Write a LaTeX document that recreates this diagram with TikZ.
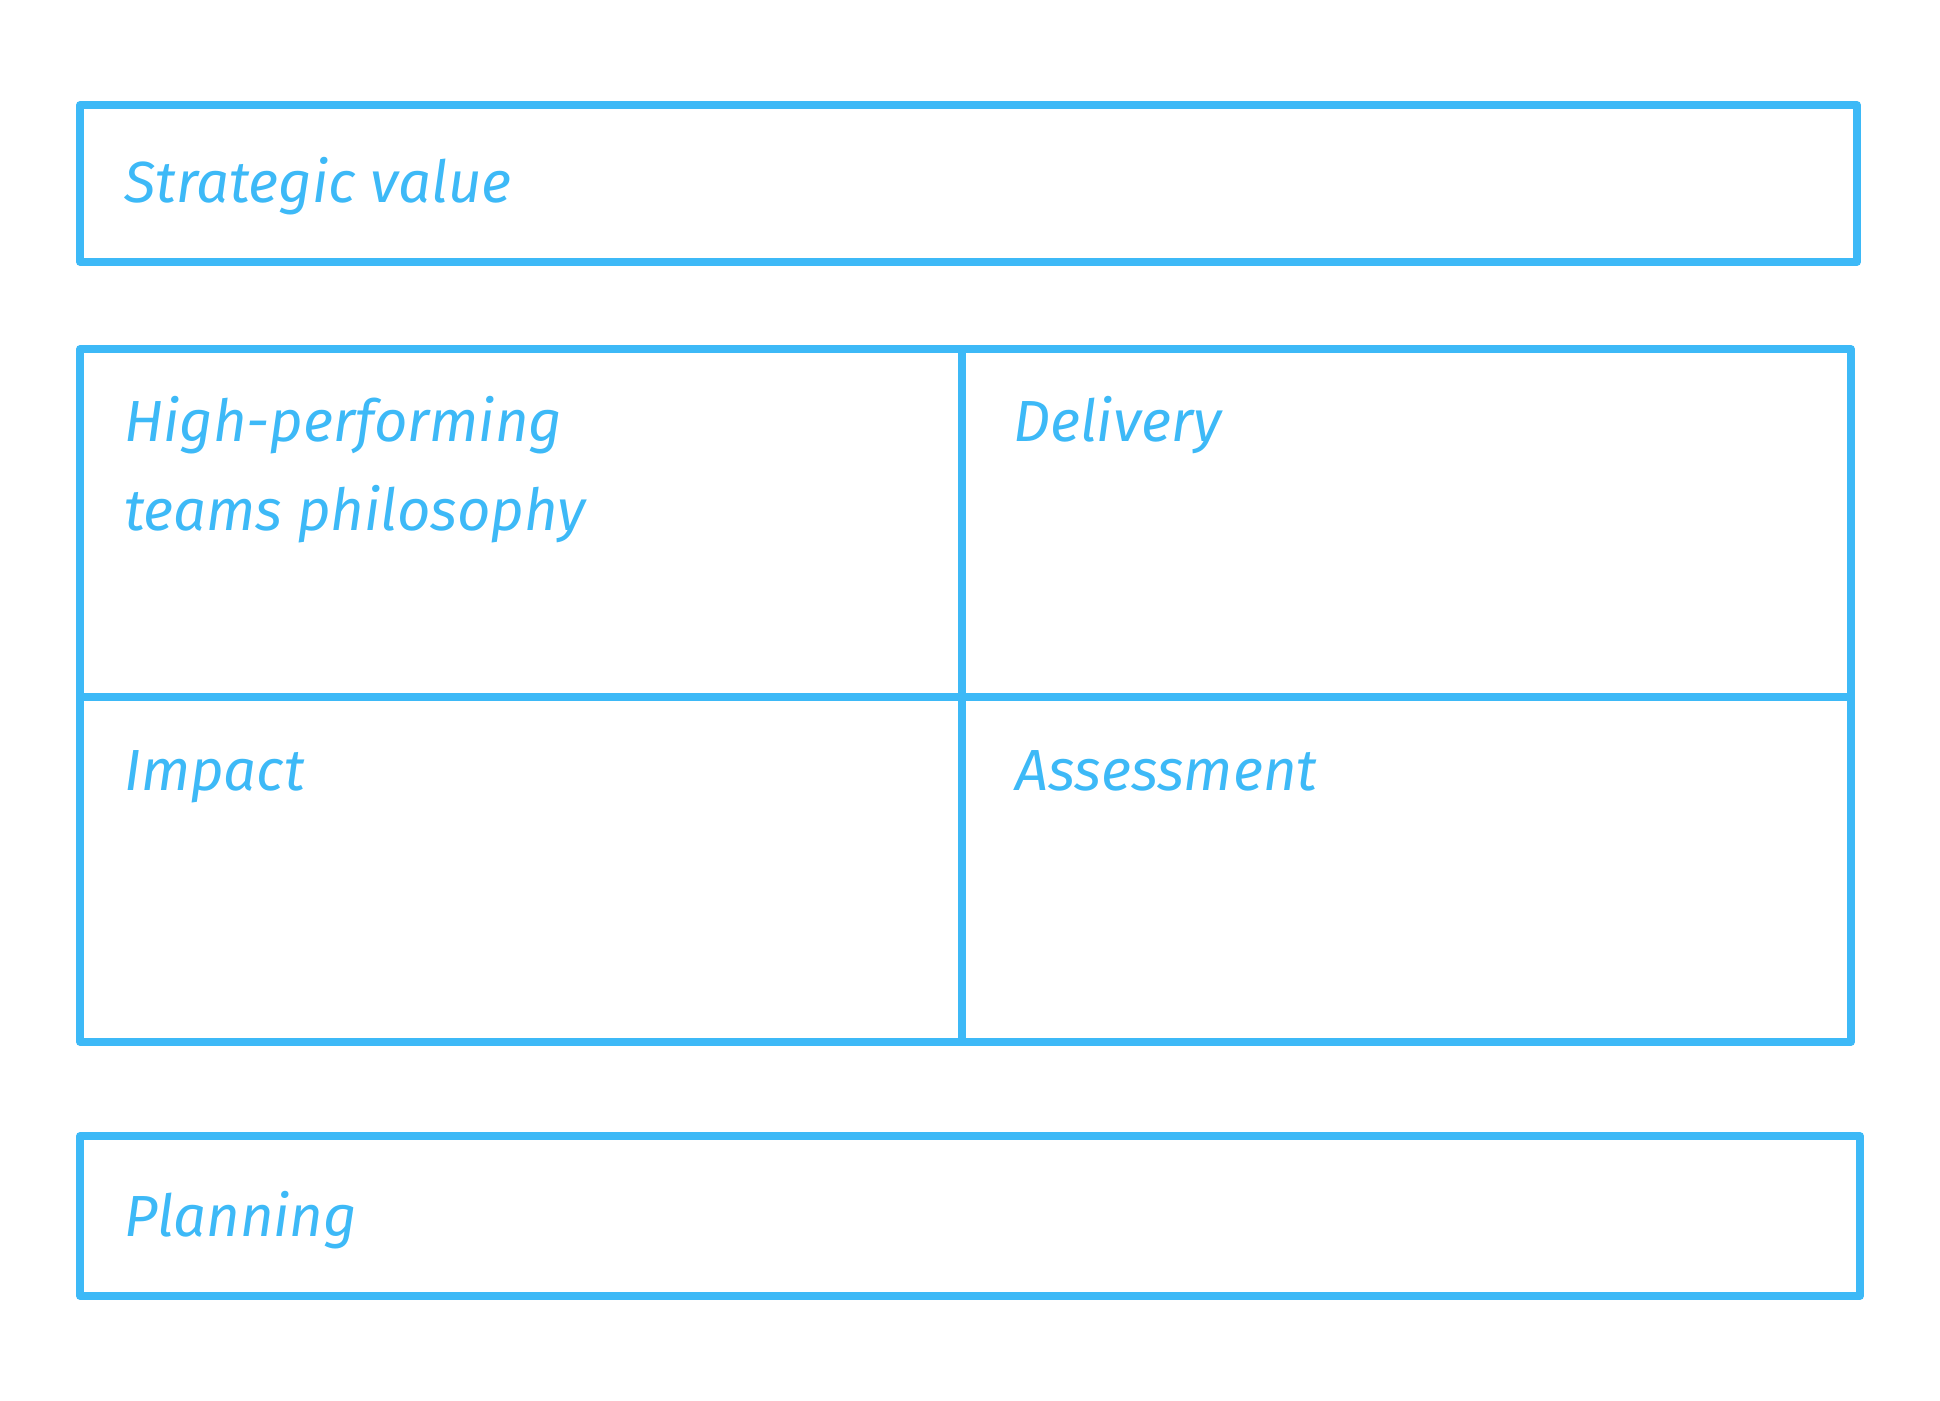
\documentclass[tikz,border=0pt]{standalone}
\usepackage{fontspec}
\setmainfont{Fira Sans}
\definecolor{sk}{HTML}{3DB9F7}
\begin{document}
\begin{tikzpicture}[x=1pt,y=-1pt,
  line/.style={draw=sk,line width=7.5pt,line join=round,line cap=round},
  lbl/.style={anchor=base west,text=sk,font=\itshape\fontsize{58}{80}\selectfont,inner sep=0pt}]
\useasboundingbox (0,0) rectangle (1940,1400);
\draw[line] (80,105) rectangle (1857,262);
\draw[line] (80,349) rectangle (1851,1042);
\coordinate (t) at (962,349); \coordinate (b) at (962,1042);
\coordinate (l) at (80,697); \coordinate (r) at (1851,697);
\draw[line] (t) -- (b);
\draw[line] (l) -- (r);
\draw[line] (80,1136) rectangle (1860,1296);
\node[lbl] (sv) at (124,202) {Strategic value};
\node[lbl] (hp) at (124,441) {High-performing};
\node[lbl] (tp) at (124,530) {teams philosophy};
\node[lbl] (de) at (1013,441) {Delivery};
\node[lbl] (im) at (124,790) {Impact};
\node[lbl] (as) at (1015,790) {Assessment};
\node[lbl] (pl) at (124,1236) {Planning};
\end{tikzpicture}
\end{document}
